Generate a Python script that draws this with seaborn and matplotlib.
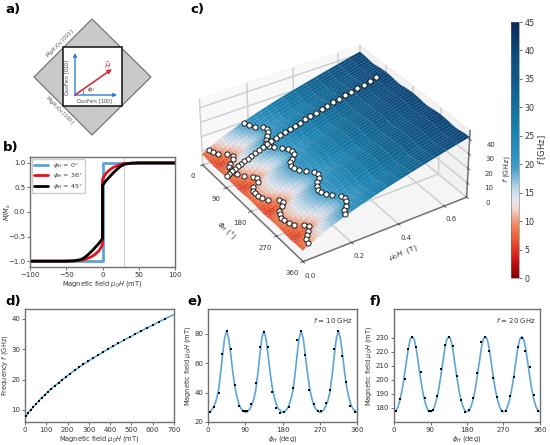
import numpy as np
import pandas as pd
import matplotlib
matplotlib.use("Agg")
import matplotlib.pyplot as plt
import seaborn as sns
from matplotlib.colors import LinearSegmentedColormap
from matplotlib.patches import Polygon, Rectangle, Arc

# --- panel b: hysteresis ---
b_field = [-100, -80, -60, -50, -40, -30, -25, -20, -15, -10, -5, -2, 0, 0, 2, 5, 10, 15, 20, 25, 30, 40, 50, 60, 80, 100]
b_m_0 = [-1, -1, -1, -1, -1, -1, -1, -1, -1, -1, -1, -1, -1, 1, 1, 1, 1, 1, 1, 1, 1, 1, 1, 1, 1, 1]
b_m_36 = [-1, -1, -1, -1, -0.995, -0.985, -0.97, -0.94, -0.91, -0.86, -0.79, -0.72, -0.66, 0.66, 0.72, 0.79, 0.86, 0.91, 0.94, 0.97, 0.985, 0.995, 1, 1, 1, 1]
b_m_45 = [-1, -1, -1, -1, -0.995, -0.97, -0.93, -0.87, -0.8, -0.72, -0.64, -0.58, -0.54, 0.54, 0.58, 0.64, 0.72, 0.8, 0.87, 0.93, 0.97, 0.995, 1, 1, 1, 1]

# --- panel d: f vs H ---
d_freq = list(range(8, 41))
d_field = [5, 15, 27, 39, 52, 65, 78, 93, 108, 124, 141, 158, 176, 194, 213, 233, 253, 274, 296, 318,
           341, 365, 389, 414, 439, 465, 491, 518, 545, 572, 600, 628, 656]
d_fit_field = [0] + d_field + [700]
d_fit_freq = [7.5] + d_freq + [41.5]

# --- panel e: H vs angle at 10 GHz ---
e_phi = [4, 15, 26, 35, 46, 55, 66, 75, 84, 89, 94, 104, 115, 126, 135, 145, 155, 165, 175, 184, 195, 205,
         215, 224, 235, 245, 255, 265, 274, 285, 295, 305, 314, 324, 334, 344, 354]
e_field = [26.6, 30.3, 40, 66, 82, 70, 45, 31, 27.5, 27.5, 27.5, 32, 46.5, 71, 81.5, 71, 40.5, 29.6, 26, 26.6, 30.5, 43,
           76, 82, 65.5, 42, 32, 27.5, 27.8, 33, 42, 70, 82, 65, 47.5, 31, 26.6]
e_fit_period = [26.5, 27, 28.5, 31, 35, 41, 52, 65, 77, 82, 77, 66, 54, 44, 37, 32, 29, 27.8, 27.3]

# --- panel f: H vs angle at 20 GHz ---
f_phi = [5, 16, 26, 35, 45, 55, 66, 76, 86, 91, 96, 106, 116, 125, 135, 145, 156, 165, 175, 185, 195, 205,
         215, 225, 235, 245, 255, 266, 275, 286, 295, 305, 315, 324, 335, 345, 356]
f_field = [177.6, 186.4, 201, 222, 230.7, 223.8, 205.7, 187, 178, 178, 178.6, 188.8, 208, 225, 230.7, 224, 202.5, 186,
           177.2, 178.3, 187, 205, 227, 230.5, 220.5, 201.7, 188, 178, 178, 188.5, 202.3, 223.8, 230, 221, 209.5, 189.3, 177.5]
f_fit_period = [177.3, 178, 181, 186, 193, 202, 212, 222, 229, 231, 229, 222, 212, 202, 193, 186, 181, 178, 177.5]
fit_phi = list(range(0, 365, 5))

# --- panel c: surface, frequency in GHz on the mu0H grid, one profile per angle in a quarter turn ---
c_mu = [0, 0.0125, 0.025, 0.0375, 0.05, 0.0625, 0.075, 0.0875, 0.1, 0.1125, 0.125, 0.1375, 0.15, 0.1625, 0.175,
        0.1875, 0.2, 0.225, 0.25, 0.275, 0.3, 0.35, 0.4, 0.45, 0.5, 0.55, 0.6, 0.65, 0.7]
c_f_phi0 = [7.5, 8.8, 9.8, 10.9, 11.9, 12.9, 13.8, 14.7, 15.5, 16.3, 17, 17.8, 18.5, 19.3, 20,
            20.7, 21.3, 22.6, 23.9, 25, 26.2, 28.4, 30.4, 32.4, 34.3, 36.2, 38, 39.8, 41.5]
c_f_phi7 = [7.5, 8.6, 9.6, 10.7, 11.7, 12.7, 13.6, 14.5, 15.4, 16.2, 16.9, 17.7, 18.4, 19.2, 19.9,
            20.6, 21.2, 22.5, 23.8, 24.9, 26.1, 28.3, 30.3, 32.3, 34.2, 36.1, 37.9, 39.7, 41.4]
c_f_phi15 = [7.4, 8.2, 9.1, 10.3, 11.3, 12.3, 13.3, 14.2, 15.1, 15.9, 16.6, 17.4, 18.1, 18.9, 19.6,
             20.3, 20.9, 22.2, 23.5, 24.7, 25.9, 28.1, 30.2, 32.2, 34.1, 36, 37.8, 39.6, 41.3]
c_f_phi22 = [7.3, 7.7, 8.4, 9.3, 10.3, 11.5, 12.5, 13.5, 14.4, 15.3, 16, 16.8, 17.6, 18.3, 19.1,
             19.7, 20.4, 21.8, 23.1, 24.3, 25.5, 27.8, 29.9, 31.9, 33.9, 35.8, 37.6, 39.4, 41.1]
c_f_phi30 = [7.2, 7.1, 7.5, 8.3, 9.2, 10.3, 11.4, 12.4, 13.3, 14.2, 15, 15.8, 16.6, 17.4, 18.1,
             18.8, 19.5, 20.9, 22.2, 23.4, 24.6, 27, 29.3, 31.4, 33.5, 35.4, 37.3, 39.1, 40.8]
c_f_phi37 = [7, 6.4, 6.2, 6.8, 7.6, 8.6, 9.6, 10.7, 11.8, 12.9, 13.8, 14.7, 15.5, 16.3, 17.1,
             17.9, 18.6, 20, 21.4, 22.7, 23.9, 26.4, 28.7, 30.9, 33.1, 35.1, 37, 38.8, 40.5]
c_f_phi45 = [6.8, 6, 5.5, 5.7, 6.5, 7.7, 9, 10.4, 11.5, 12.6, 13.5, 14.5, 15.5, 16.3, 17,
             17.8, 18.5, 19.8, 21.2, 22.5, 23.7, 26.2, 28.5, 30.8, 33, 35, 36.9, 38.7, 40.4]
c_phi = [i * 7.5 for i in range(49)]
c_line_phi = 90

cbar_ticks = [0, 5, 10, 15, 20, 25, 30, 35, 40, 45]
cmap_stops = [(0, "#7a0000"), (3, "#c01010"), (5, "#e03020"), (8, "#f06a3a"), (10, "#f49070"), (12.5, "#f0d8cc"),
              (14, "#e8e8f0"), (16, "#bcd8ea"), (20, "#3a9bc8"), (25, "#1b86b6"), (30, "#12729f"),
              (35, "#0f5c8c"), (40, "#0c4a7c"), (45, "#082c60")]

sns.set_theme(style="ticks", rc={
    "axes.edgecolor": "#707070", "axes.linewidth": 1.0, "xtick.labelsize": 5, "ytick.labelsize": 5,
    "axes.labelsize": 4.8, "xtick.major.size": 2, "ytick.major.size": 2, "xtick.major.width": 0.5,
    "ytick.major.width": 0.5, "xtick.major.pad": 1.5, "ytick.major.pad": 1.5, "axes.labelpad": 1,
    "text.color": "#333333", "axes.labelcolor": "#333333", "xtick.color": "#333333", "ytick.color": "#333333",
})
plt.rcParams["font.family"] = "DejaVu Sans"

W, H = 550, 445
fig = plt.figure(figsize=(W / 100, H / 100), dpi=100)


def px_axes(x0, y0, x1, y1, **kw):
    return fig.add_axes([x0 / W, 1 - y1 / H, (x1 - x0) / W, (y1 - y0) / H], **kw)


BLUE = "#5aa5d6"
field_label = r"Magnetic field $\mu_0 H$ (mT)"
phi_label = r"$\phi_H$ (deg)"

# c) surface goes first so the other panels sit over its empty margins
stops = [(v / 45, c) for v, c in cmap_stops]
cmap = LinearSegmentedColormap.from_list("fmr", stops, N=256)
quarter = [c_f_phi0, c_f_phi7, c_f_phi15, c_f_phi22, c_f_phi30, c_f_phi37,
           c_f_phi45, c_f_phi37, c_f_phi30, c_f_phi22, c_f_phi15, c_f_phi7]
Z = np.array(quarter * 4 + [c_f_phi0]).T
X, Y = np.meshgrid(c_phi, c_mu)

ax3 = px_axes(136, -12, 521, 317, projection="3d", computed_zorder=False)
ax3.patch.set_alpha(0)
ax3.view_init(elev=34, azim=-33)
ax3.set_box_aspect((4, 4, 1.66), zoom=0.84)
surf = ax3.plot_surface(X, Y, Z, cmap=cmap, vmin=0, vmax=45, rstride=1, cstride=1, linewidth=0.12,
                        edgecolor=(0.15, 0.2, 0.3, 0.22), zorder=1)
for xs, ys, zs in [(e_phi, e_field, [10] * len(e_phi)), (f_phi, f_field, [20] * len(f_phi)),
                   ([c_line_phi] * len(d_field), d_field, d_freq)]:
    ax3.scatter(xs, np.array(ys) / 1000, zs, s=14, c="white", edgecolors="black", linewidths=0.6, depthshade=False, zorder=5)
ax3.set_xlim(0, 360)
ax3.set_ylim(0, 0.7)
ax3.set_zlim(0, 46)
ax3.set_xticks([0, 90, 180, 270, 360])
ax3.set_yticks([0, 0.2, 0.4, 0.6])
ax3.set_zticks([0, 10, 20, 30, 40])
ax3.tick_params(labelsize=5, pad=0)
ax3.tick_params(axis="z", pad=1.5)
ax3.set_xlabel(r"$\phi_H$ (°)", fontsize=5.4, labelpad=-3)
ax3.set_ylabel(r"$\mu_0 H$  (T)", fontsize=5.4, labelpad=-3)
ax3.set_zlabel(r"$f$ (GHz)", fontsize=5.4, labelpad=-4)

cax = px_axes(511, 22, 519, 278)
cb = fig.colorbar(surf, cax=cax)
cb.set_ticks(cbar_ticks)
cb.ax.tick_params(labelsize=5.8, length=2, width=0.5, pad=2)
cb.set_label(r"$f$ [GHz]", fontsize=6, labelpad=1)
cb.outline.set_linewidth(0.4)
cb.solids.set_edgecolor("face")

# a) sketch, on an overlay in pixel units
ov = px_axes(0, 0, W, H)
ov.set_xlim(0, W)
ov.set_ylim(H, 0)
ov.axis("off")
ov.add_patch(Polygon([(92, 19), (151, 77), (92, 135), (34, 77)], fc="#c9c9c9", ec="#6a6a6a", lw=0.8))
ov.add_patch(Rectangle((63, 47), 59, 59, fc="white", ec="#222222", lw=1.2))
ov.annotate("", xy=(75, 53), xytext=(75, 95), arrowprops=dict(arrowstyle="-|>", color="#2a7fd0", lw=1, mutation_scale=5, shrinkA=0, shrinkB=0))
ov.annotate("", xy=(117, 95), xytext=(75, 95), arrowprops=dict(arrowstyle="-|>", color="#2a7fd0", lw=1, mutation_scale=5, shrinkA=0, shrinkB=0))
ov.annotate("", xy=(112, 69), xytext=(75, 95), arrowprops=dict(arrowstyle="-|>", color="#d8303a", lw=1.2, mutation_scale=6, shrinkA=0, shrinkB=0))
ov.add_patch(Arc((75, 95), 18, 18, theta1=-35, theta2=0, color="#333333", lw=0.4))
ov.text(60, 43, r"MgAl$_2$O$_4$ [010]", rotation=45, fontsize=3.6, ha="center", va="center", color="#555555")
ov.text(60, 110, r"MgAl$_2$O$_4$ [100]", rotation=-45, fontsize=3.6, ha="center", va="center", color="#555555")
ov.text(68, 78, r"Co$_{25}$Fe$_{75}$ [010]", rotation=90, fontsize=3.4, ha="center", va="center")
ov.text(94, 101.5, r"Co$_{25}$Fe$_{75}$ [100]", fontsize=3.4, ha="center", va="center")
ov.text(91, 90, r"$\phi_H$", fontsize=4, ha="center", va="center")
ov.text(108, 65, r"$\vec{H}$", fontsize=5, ha="center", va="center", color="#d8303a")

for letter, lx, ly in [("a)", 5, 10), ("b)", 3, 148), ("c)", 190, 10), ("d)", 5, 301), ("e)", 187, 301), ("f)", 370, 301)]:
    ov.text(lx, ly, letter, fontsize=9.5, fontweight="bold", color="black", ha="left", va="center")

# b)
axb = px_axes(30, 157, 175, 267)
axb.axvline(30, color="#cccccc", lw=0.8)
sns.lineplot(x=b_field, y=b_m_0, ax=axb, color=BLUE, lw=2, sort=False, estimator=None, label=r"$\phi_H$ = 0°")
sns.lineplot(x=b_field, y=b_m_36, ax=axb, color="#e8101c", lw=2, sort=False, estimator=None, label=r"$\phi_H$ = 36°")
sns.lineplot(x=b_field, y=b_m_45, ax=axb, color="black", lw=2, sort=False, estimator=None, label=r"$\phi_H$ = 45°")
axb.set_xlim(-100, 100)
axb.set_ylim(-1.12, 1.12)
axb.set_xticks([-100, -50, 0, 50, 100])
axb.set_yticks([-1, -0.5, 0, 0.5, 1])
axb.set_xlabel(field_label)
axb.set_ylabel(r"$M/M_s$")
axb.yaxis.set_label_coords(-0.115, 0.5)
axb.legend(loc="upper left", fontsize=4.6, frameon=True, borderpad=0.3, labelspacing=0.25, handlelength=2.2,
           borderaxespad=0.3, edgecolor="#cccccc", framealpha=1)

# d)
axd = px_axes(25, 309, 174, 422)
sns.lineplot(x=d_fit_field, y=d_fit_freq, ax=axd, color=BLUE, lw=1.2, estimator=None)
sns.scatterplot(x=d_field, y=d_freq, ax=axd, color="black", marker="s", s=4, linewidth=0, zorder=3)
axd.set_xlim(0, 700)
axd.set_ylim(6, 43.3)
axd.set_xticks(range(0, 701, 100))
axd.set_yticks([10, 20, 30, 40])
axd.set_xlabel(field_label)
axd.set_ylabel(r"Frequency $f$ (GHz)")

# e)
axe = px_axes(208, 309, 357, 422)
sns.lineplot(x=fit_phi, y=(e_fit_period[:-1] * 4 + e_fit_period[:1]), ax=axe, color=BLUE, lw=1.2, estimator=None)
sns.scatterplot(x=e_phi, y=e_field, ax=axe, color="black", marker="s", s=4, linewidth=0, zorder=3)
axe.set_xlim(0, 360)
axe.set_ylim(20, 97)
axe.set_xticks([0, 90, 180, 270, 360])
axe.set_yticks([20, 40, 60, 80])
axe.set_xlabel(phi_label)
axe.set_ylabel(r"Magnetic field $\mu_0 H$ (mT)")
axe.text(0.97, 0.94, r"$f$ = 10 GHz", transform=axe.transAxes, fontsize=5, ha="right", va="top")

# f)
axf = px_axes(394, 309, 540, 422)
sns.lineplot(x=fit_phi, y=(f_fit_period[:-1] * 4 + f_fit_period[:1]), ax=axf, color=BLUE, lw=1.2, estimator=None)
sns.scatterplot(x=f_phi, y=f_field, ax=axf, color="black", marker="s", s=4, linewidth=0, zorder=3)
axf.set_xlim(0, 360)
axf.set_ylim(170, 250.7)
axf.set_xticks([0, 90, 180, 270, 360])
axf.set_yticks(range(180, 231, 10))
axf.set_xlabel(phi_label)
axf.set_ylabel(r"Magnetic field $\mu_0 H$ (mT)")
axf.text(0.97, 0.94, r"$f$ = 20 GHz", transform=axf.transAxes, fontsize=5, ha="right", va="top")

fig.savefig("out.png", dpi=100)
